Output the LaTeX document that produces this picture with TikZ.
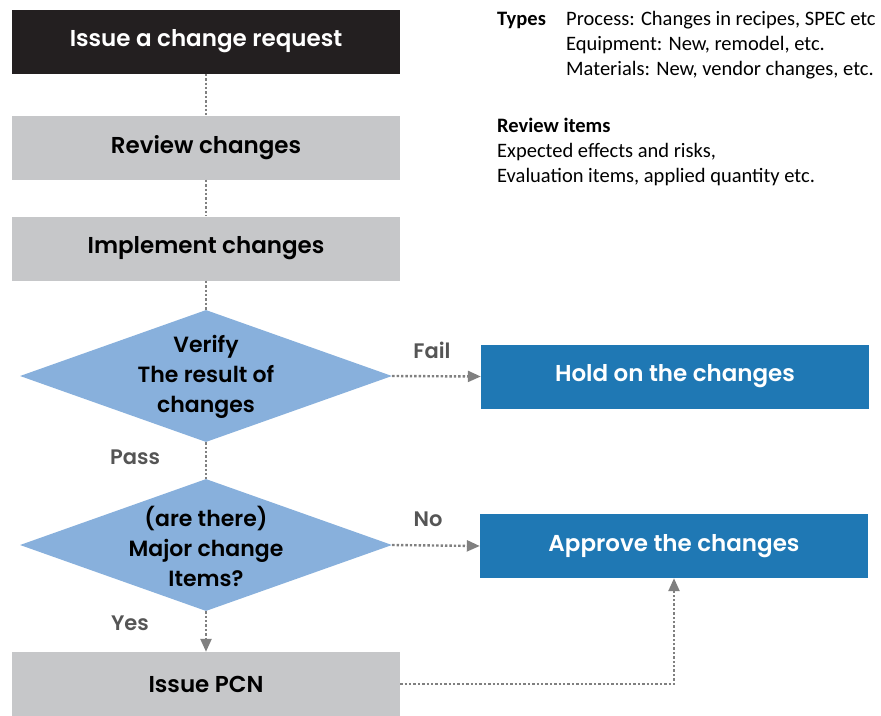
\documentclass[tikz,border=0pt]{standalone}
\usepackage{fontspec}
\setmainfont{Carlito}
\newfontfamily\boxfont{Poppins SemiBold}
\usetikzlibrary{shapes.geometric, arrows.meta, positioning, calc}

\definecolor{boxblack}{HTML}{231F20}
\definecolor{boxgrey}{HTML}{C6C7C9}
\definecolor{decblue}{HTML}{88B0DC}
\definecolor{actblue}{HTML}{1F78B4}
\definecolor{linegrey}{HTML}{808080}
\definecolor{labelgrey}{HTML}{555555}

\begin{document}
\begin{tikzpicture}[x=1pt, y=-1pt,
    stepbox/.style={minimum width=388pt, minimum height=64pt, inner sep=0pt, fill=boxgrey,
        font=\boxfont\fontsize{23}{26}\selectfont},
    decision/.style={diamond, fill=decblue, minimum width=372pt, minimum height=132pt, inner sep=0pt},
    dectext/.style={align=center, font=\boxfont\fontsize{22}{30}\selectfont},
    edgelabel/.style={text=labelgrey, font=\boxfont\fontsize{21}{24}\selectfont},
    note/.style={anchor=base west, inner sep=0pt, font=\fontsize{20.5}{24}\selectfont},
    link/.style={draw=linegrey, line width=2.4pt, dash pattern=on 2.4pt off 2pt},
    flow/.style={link, -{Triangle[length=13pt, width=11pt, fill=linegrey]}}
]
    \useasboundingbox (0,0) rectangle (881,715);

    % ------------------ Main flow ------------------

    % Request
    \node[stepbox, fill=boxblack, text=white] (request) at (206,41.5) {Issue a change request};

    % Review
    \node[stepbox] (review) at (206,147.5) {Review changes};

    % Implement
    \node[stepbox] (implement) at (206,248.5) {Implement changes};

    % Verify
    \node[decision] (verify) at (206,376) {};
    \node[dectext] (verifytxt) at (206,377) {Verify\\The result of\\changes};

    % Major change items
    \node[decision] (major) at (206,545) {};
    \node[dectext] (majortxt) at (206,546) {(are there)\\Major change\\Items?};

    % PCN
    \node[stepbox] (pcn) at (206,684) {Issue PCN};

    % Outcomes
    \node[stepbox, fill=actblue, text=white] (hold) at (675,376.5) {Hold on the changes};
    \node[stepbox, fill=actblue, text=white] (approve) at (674,546) {Approve the changes};

    % Links
    \draw[link] (request) -- (review);
    \draw[link] (review) -- (implement);
    \draw[link] (implement) -- (verify.north);
    \draw[link] (verify.south) -- (major.north);
    \draw[flow] (verify.east) -- (hold.west);
    \draw[flow] (major.east) -- (approve.west);
    \draw[flow] (major.south) -- (pcn.north);
    \draw[flow] (pcn.east) -| (approve.south);

    % Labels
    \node[edgelabel] (fail) at (432,350) {Fail};
    \node[edgelabel] (pass) at (135,457) {Pass};
    \node[edgelabel] (no) at (428,519) {No};
    \node[edgelabel] (yes) at (130,623) {Yes};

    % ------------------ Notes ------------------

    \node[note] (types) at (497,25) {\bfseries Types};
    \node[note] (process) at (566,25) {Process: Changes in recipes, SPEC etc};
    \node[note] (equip) at (566,50) {Equipment: New, remodel, etc.};
    \node[note] (mater) at (566,75) {Materials: New, vendor changes, etc.};

    \node[note] (revitems) at (497,132) {\bfseries Review items};
    \node[note] (effects) at (497,157) {Expected effects and risks,};
    \node[note] (evalitems) at (497,182) {Evaluation items, applied quantity etc.};

\end{tikzpicture}
\end{document}
